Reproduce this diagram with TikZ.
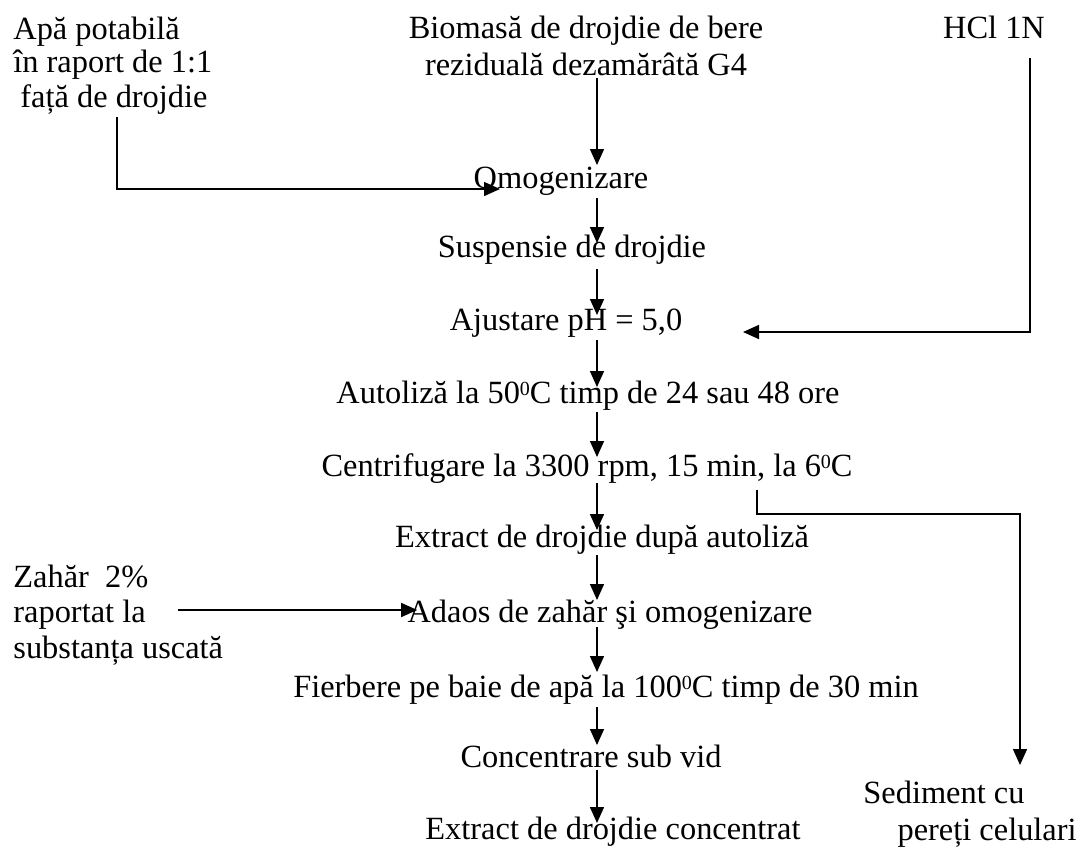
\documentclass[tikz,border=0pt]{standalone}
\usepackage{fontspec}
\setmainfont{Liberation Serif}
\usetikzlibrary{arrows.meta,calc}
\newcommand\supz{\raisebox{4pt}{\fontsize{10}{10}\selectfont 0}}
\begin{document}
\begin{tikzpicture}[x=0.5pt,y=-0.5pt,
  lbl/.style={inner sep=0pt, font=\fontsize{16.2}{18}\selectfont},
  arr/.style={line width=0.75pt, -{Triangle[length=8pt,width=7pt]}}]
\useasboundingbox (0,0) rectangle (1082,848);
\coordinate (ax) at (597,0);
% texts
\node[lbl, anchor=base] (bio1) at (586,38) {Biomasă de drojdie de bere};
\node[lbl, anchor=base] (bio2) at (586,75) {reziduală dezamărâtă G4};
\node[lbl, anchor=base west] (apa1) at (13,39) {Apă potabilă};
\node[lbl, anchor=base west] (apa2) at (13,72) {în raport de 1:1};
\node[lbl, anchor=base west] (apa3) at (20,107) {față de drojdie};
\node[lbl, anchor=base] (hcl) at (994,38) {HCl 1N};
\node[lbl, anchor=base] (omog) at (561,188) {Omogenizare};
\node[lbl, anchor=base] (susp) at (572,257) {Suspensie de drojdie};
\node[lbl, anchor=base] (ajust) at (566,330) {Ajustare pH = 5,0};
\node[lbl, anchor=base] (auto) at (588,403) {Autoliză la 50\supz C timp de 24 sau 48 ore};
\node[lbl, anchor=base] (centr) at (587,476) {Centrifugare la 3300 rpm, 15 min, la 6\supz C};
\node[lbl, anchor=base] (extr) at (602,547) {Extract de drojdie după autoliză};
\node[lbl, anchor=base] (adaos) at (610,622) {Adaos de zahăr şi omogenizare};
\node[lbl, anchor=base] (fierb) at (606,697) {Fierbere pe baie de apă la 100\supz C timp de 30 min};
\node[lbl, anchor=base] (conc) at (591,767) {Concentrare sub vid};
\node[lbl, anchor=base] (final) at (613,839) {Extract de drojdie concentrat};
\node[lbl, anchor=base west] (sed1) at (863,803) {Sediment cu};
\node[lbl, anchor=base east] (sed2) at (1077,840) {pereți celulari};
\node[lbl, anchor=base west] (zah1) at (13,587) {Zahăr\ \ 2\%};
\node[lbl, anchor=base west] (zah2) at (13,622) {raportat la};
\node[lbl, anchor=base west] (zah3) at (13,658) {substanța uscată};
% main flow
\draw[arr, shorten <=1.5pt, shorten >=11.5pt] (bio2.base -| ax) -- (omog.base -| ax);
\draw[arr, shorten <=5pt, shorten >=7pt] (omog.base -| ax) -- (susp.base -| ax);
\draw[arr, shorten <=6pt, shorten >=7.5pt] (susp.base -| ax) -- (ajust.base -| ax);
\draw[arr, shorten <=5pt, shorten >=8pt] (ajust.base -| ax) -- (auto.base -| ax);
\draw[arr, shorten <=4.5pt, shorten >=9.5pt] (auto.base -| ax) -- (centr.base -| ax);
\draw[arr, shorten <=3.5pt, shorten >=8.5pt] (centr.base -| ax) -- (extr.base -| ax);
\draw[arr, shorten <=4pt, shorten >=11pt] (extr.base -| ax) -- (adaos.base -| ax);
\draw[arr, shorten <=2.5pt, shorten >=12.5pt] (adaos.base -| ax) -- (fierb.base -| ax);
\draw[arr, shorten <=5pt, shorten >=11pt] (fierb.base -| ax) -- (conc.base -| ax);
\draw[arr, shorten <=1.5pt, shorten >=8pt] (conc.base -| ax) -- (final.base -| ax);
% side inputs / outputs
\coordinate (wtop) at (117,117);
\draw[arr, shorten >=30.5pt] (wtop) |- ([yshift=-0.5pt]omog.base);
\coordinate (hx) at (1030,0);
\draw[arr, shorten <=10pt, shorten >=88.5pt] (hcl.base -| hx) |- ([yshift=-1pt]ajust.base);
\coordinate (bstart) at (757,490);
\coordinate (bturn) at (1020,514);
\draw[arr, shorten >=19pt] (bstart) |- (bturn) -- (bturn |- sed1.base);
\draw[arr, shorten <=16pt, shorten >=-5pt] ([yshift=6pt]zah2.base east) -- ([yshift=6pt]adaos.base west);
\end{tikzpicture}
\end{document}
